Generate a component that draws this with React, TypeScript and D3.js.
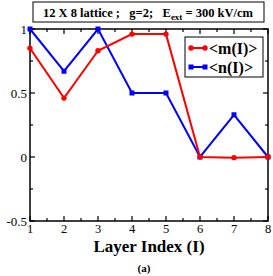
import React, { useEffect, useRef } from 'react';
import * as d3 from 'd3';

const layers = [1, 2, 3, 4, 5, 6, 7, 8];
const mValues = [0.85, 0.46, 0.83, 0.96, 0.96, 0.0, -0.005, 0.0];
const nValues = [1.0, 0.67, 1.0, 0.5, 0.5, 0.0, 0.33, 0.0];
const yTicks = [-0.5, 0, 0.5, 1];
const seriesNames = ['<m(I)>', '<n(I)>'];

const App: React.FC = () => {
  const svgRef = useRef<SVGSVGElement>(null);

  useEffect(() => {
    if (!svgRef.current) return;
    const svg = d3.select(svgRef.current);
    svg.selectAll('*').remove();

    const font = '"Liberation Serif", "Times New Roman", serif';
    const margin = { left: 30, right: 5, top: 29, bottom: 55 };
    const width = 273, height = 276;
    const x = d3.scaleLinear().domain([1, 8]).range([margin.left, width - margin.right]);
    const y = d3.scaleLinear().domain([-0.5, 1]).range([height - margin.bottom, margin.top]);

    // Title box
    svg.append('rect')
      .attr('x', 33).attr('y', 2).attr('width', 231).attr('height', 20)
      .attr('fill', 'white').attr('stroke', 'black').attr('stroke-width', 1);
    const title = svg.append('text')
      .attr('x', 148).attr('y', 16.5).attr('text-anchor', 'middle')
      .attr('font-family', font).attr('font-weight', 'bold').attr('font-size', 12.5)
      .attr('xml:space', 'preserve');
    title.append('tspan').text('12 X 8 lattice ;   g=2;   E');
    title.append('tspan').attr('font-size', 9).attr('dy', 3).text('ext');
    title.append('tspan').attr('dy', -3).text(' = 300 kV/cm');

    // Frame
    const g = svg.append('g');
    g.append('rect')
      .attr('x', x(1)).attr('y', y(1))
      .attr('width', x(8) - x(1)).attr('height', y(-0.5) - y(1))
      .attr('fill', 'none').attr('stroke', 'black').attr('stroke-width', 1.5);

    // Ticks (inward, mirrored)
    const xMajor = layers;
    const xMinor = d3.range(1.5, 8, 1);
    const yMajor = yTicks;
    const yMinor = [-0.25, 0.25, 0.75];
    const tickG = g.append('g').attr('stroke', 'black').attr('stroke-width', 1.2);
    xMajor.forEach(v => {
      tickG.append('line').attr('x1', x(v)).attr('x2', x(v)).attr('y1', y(-0.5)).attr('y2', y(-0.5) - 5);
      tickG.append('line').attr('x1', x(v)).attr('x2', x(v)).attr('y1', y(1)).attr('y2', y(1) + 5);
    });
    xMinor.forEach(v => {
      tickG.append('line').attr('x1', x(v)).attr('x2', x(v)).attr('y1', y(-0.5)).attr('y2', y(-0.5) - 3);
      tickG.append('line').attr('x1', x(v)).attr('x2', x(v)).attr('y1', y(1)).attr('y2', y(1) + 3);
    });
    yMajor.forEach(v => {
      tickG.append('line').attr('x1', x(1)).attr('x2', x(1) + 5).attr('y1', y(v)).attr('y2', y(v));
      tickG.append('line').attr('x1', x(8)).attr('x2', x(8) - 5).attr('y1', y(v)).attr('y2', y(v));
    });
    yMinor.forEach(v => {
      tickG.append('line').attr('x1', x(1)).attr('x2', x(1) + 3).attr('y1', y(v)).attr('y2', y(v));
      tickG.append('line').attr('x1', x(8)).attr('x2', x(8) - 3).attr('y1', y(v)).attr('y2', y(v));
    });

    // Tick labels
    g.selectAll('.xl').data(xMajor).enter().append('text')
      .attr('x', d => x(d)).attr('y', y(-0.5) + 12).attr('text-anchor', 'middle')
      .attr('font-family', font).attr('font-size', 12.5).text(d => d);
    g.selectAll('.yl').data(yMajor).enter().append('text')
      .attr('x', x(1) - 3).attr('y', d => y(d) + 4.5).attr('text-anchor', 'end')
      .attr('font-family', font).attr('font-size', 13).text(d => d);

    // Axis title
    svg.append('text')
      .attr('x', 149).attr('y', 252).attr('text-anchor', 'middle')
      .attr('font-family', font).attr('font-weight', 'bold').attr('font-size', 17)
      .text('Layer Index (I)');
    svg.append('text')
      .attr('x', 144).attr('y', 272).attr('text-anchor', 'middle')
      .attr('font-family', font).attr('font-weight', 'bold').attr('font-size', 11)
      .text('(a)');

    const line = d3.line<number>().x((_, i) => x(layers[i])).y(d => y(d));

    // n series (blue)
    g.append('path').datum(nValues).attr('d', line)
      .attr('fill', 'none').attr('stroke', '#0000ff').attr('stroke-width', 2);
    g.selectAll('.nm').data(nValues).enter().append('rect')
      .attr('x', (_, i) => x(layers[i]) - 2.5).attr('y', d => y(d) - 2.5)
      .attr('width', 5).attr('height', 5).attr('fill', '#0000ff');

    // m series (red)
    g.append('path').datum(mValues).attr('d', line)
      .attr('fill', 'none').attr('stroke', '#ff0000').attr('stroke-width', 2);
    g.selectAll('.mm').data(mValues).enter().append('circle')
      .attr('cx', (_, i) => x(layers[i])).attr('cy', d => y(d)).attr('r', 2.7)
      .attr('fill', '#ff0000');

    // Legend
    const lg = svg.append('g');
    lg.append('rect').attr('x', 185).attr('y', 37).attr('width', 78).attr('height', 40)
      .attr('fill', 'white').attr('stroke', 'black').attr('stroke-width', 1);
    const colors = ['#ff0000', '#0000ff'];
    seriesNames.forEach((name, i) => {
      const yy = 48 + i * 19;
      lg.append('line').attr('x1', 190).attr('x2', 206).attr('y1', yy).attr('y2', yy)
        .attr('stroke', colors[i]).attr('stroke-width', 2);
      if (i === 0) {
        lg.append('circle').attr('cx', 191).attr('cy', yy).attr('r', 2.7).attr('fill', colors[i]);
        lg.append('circle').attr('cx', 205).attr('cy', yy).attr('r', 2.7).attr('fill', colors[i]);
      } else {
        lg.append('rect').attr('x', 188.5).attr('y', yy - 2.5).attr('width', 5).attr('height', 5).attr('fill', colors[i]);
        lg.append('rect').attr('x', 202.5).attr('y', yy - 2.5).attr('width', 5).attr('height', 5).attr('fill', colors[i]);
      }
      lg.append('text').attr('x', 209).attr('y', yy + 5.5)
        .attr('font-family', font).attr('font-weight', 'bold').attr('font-size', 16)
        .text(name);
    });
  }, []);

  return (
    <svg ref={svgRef} width={273} height={276}
      style={{ position: 'absolute', left: 0, top: 0, background: 'white' }} />
  );
};

export default App;
